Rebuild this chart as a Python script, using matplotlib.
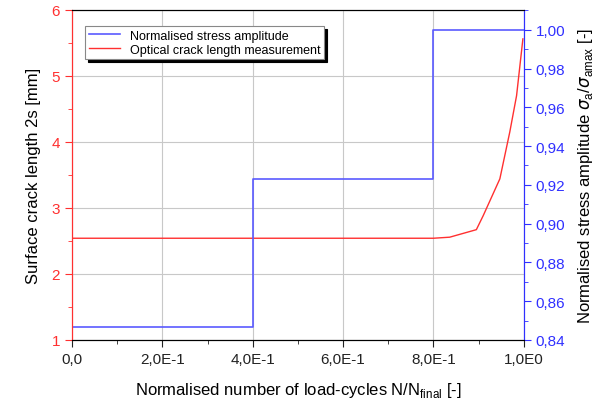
import matplotlib
matplotlib.use("Agg")
import matplotlib.pyplot as plt
from matplotlib.ticker import MultipleLocator, FuncFormatter

plt.rcParams["font.family"] = ["Liberation Sans", "DejaVu Sans"]

# stress amplitude steps
stress_x = [0.0, 0.4, 0.4, 0.8, 0.8, 1.0]
stress_y = [0.8465, 0.8465, 0.923, 0.923, 1.0, 1.0]

# optical crack length
crack_x = [0.0, 0.8, 0.836, 0.895, 0.91, 0.947, 0.969, 0.984, 0.998]
crack_y = [2.54, 2.54, 2.556, 2.67, 2.88, 3.44, 4.15, 4.70, 5.56]

fig = plt.figure(figsize=(6, 4.02), dpi=100)
ax = fig.add_axes([0.12, 0.152, 0.753, 0.821])
ax2 = ax.twinx()

ax.plot(crack_x, crack_y, color="#ff3030", lw=1, label="Optical crack length measurement")
ax2.plot(stress_x, stress_y, color="#5a5aff", lw=1.2, label="Normalised stress amplitude")

ax.set_xlim(0, 1.0)
ax.set_ylim(1, 6)
ax2.set_ylim(0.84, 1.0103)

ax.xaxis.set_major_locator(MultipleLocator(0.2))
ax.xaxis.set_minor_locator(MultipleLocator(0.1))
ax.yaxis.set_major_locator(MultipleLocator(1))
ax.yaxis.set_minor_locator(MultipleLocator(0.5))
ax2.yaxis.set_major_locator(MultipleLocator(0.02))
ax2.yaxis.set_minor_locator(MultipleLocator(0.01))


def xfmt(v, pos):
    if abs(v) < 1e-9:
        return "0,0"
    if abs(v - 1) < 1e-9:
        return "1,0E0"
    return ("%.1fE-1" % (v * 10)).replace(".", ",")


ax.xaxis.set_major_formatter(FuncFormatter(xfmt))
ax.yaxis.set_major_formatter(FuncFormatter(lambda v, p: "%d" % v))
ax2.yaxis.set_major_formatter(FuncFormatter(lambda v, p: ("%.2f" % v).replace(".", ",")))

ax.grid(True, which="major", color="#c8c8c8", lw=0.8)
ax.set_axisbelow(True)

red = "#ff3030"
blue = "#3030ff"
ax.spines["left"].set_color(red)
ax2.spines["left"].set_color(red)
ax2.spines["right"].set_color(blue)
ax.spines["right"].set_color(blue)
ax.tick_params(axis="y", which="both", colors=red, labelsize=11, direction="out")
ax.tick_params(axis="y", which="major", length=5)
ax.tick_params(axis="y", which="minor", length=3)
ax.tick_params(axis="x", which="major", length=5, labelsize=11, colors="#222222")
ax.tick_params(axis="x", which="minor", length=3, colors="#222222")
ax2.tick_params(axis="y", which="both", colors=blue, labelsize=11)
ax2.tick_params(axis="y", which="major", length=5)
ax2.tick_params(axis="y", which="minor", length=3)

ax.set_xlabel(r"Normalised number of load-cycles N/N$_{\mathregular{final}}$ [-]", fontsize=12, labelpad=10)
ax.set_ylabel("Surface crack length 2s [mm]", fontsize=12, labelpad=8)
ax2.set_ylabel(r"Normalised stress amplitude $\sigma_{\mathregular{a}}$/$\sigma_{\mathregular{amax}}$ [-]",
               fontsize=12, labelpad=8)

h1, l1 = ax2.get_legend_handles_labels()
h2, l2 = ax.get_legend_handles_labels()
leg = ax2.legend(h1 + h2, l1 + l2, loc="upper left", bbox_to_anchor=(0.015, 0.97),
                 fontsize=9, frameon=True, shadow={"color": "black", "alpha": 1},
                 fancybox=False, framealpha=1,
                 edgecolor="#888888", borderpad=0.3, labelspacing=0.15, handlelength=2.5)
leg.get_frame().set_linewidth(0.8)

fig.savefig("out.png", dpi=100)
